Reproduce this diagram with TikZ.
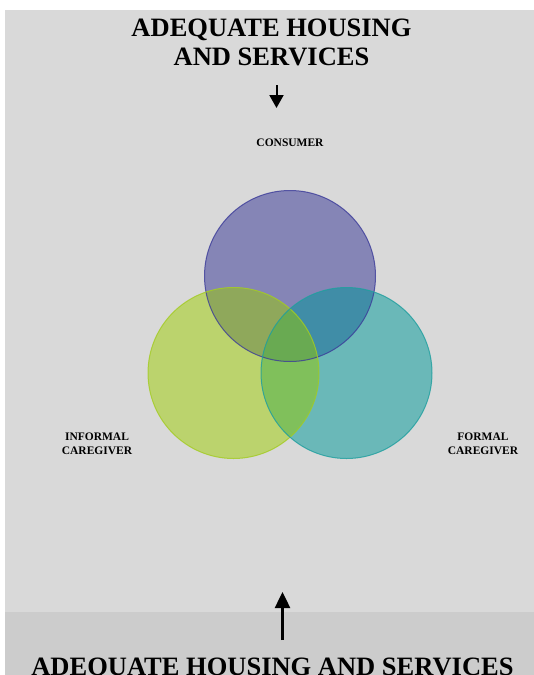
\documentclass[tikz,border=0pt]{standalone}
\usepackage{fontspec}
\setmainfont{Liberation Serif}
\usetikzlibrary{arrows.meta}

\definecolor{panel}{HTML}{D9D9D9}
\definecolor{band}{HTML}{CCCCCC}
\definecolor{consumerFill}{HTML}{8585B6}
\definecolor{consumerLine}{HTML}{3B3B99}
\definecolor{informalFill}{HTML}{BBD36D}
\definecolor{informalLine}{HTML}{A3CB22}
\definecolor{formalFill}{HTML}{6AB8B8}
\definecolor{formalLine}{HTML}{1E9E9E}
\definecolor{ciFill}{HTML}{8FA85B}
\definecolor{cfFill}{HTML}{408DA7}
\definecolor{ifFill}{HTML}{80C05B}
\definecolor{allFill}{HTML}{69AA52}

\tikzset{
  heading/.style={font=\bfseries\fontsize{26.5}{29}\selectfont, align=center, inner sep=0pt, anchor=base},
  role/.style={font=\bfseries\fontsize{11.5}{14}\selectfont, align=center, inner sep=0pt, anchor=base},
  flow/.style={line width=2pt, -{Triangle[width=14pt,length=13pt]}},
  flowup/.style={line width=2.5pt, -{Triangle[width=15pt,length=16pt]}},
}

\newcommand{\rad}{85.5}

\begin{document}
\begin{tikzpicture}[x=1pt,y=-1pt]
  \useasboundingbox (0,0) rectangle (534,675);
  \fill[white] (0,0) rectangle (534,675);
  \fill[panel] (5,10) rectangle (534,675);
  \fill[band] (5,612) rectangle (534,675);

  % circle centres
  \coordinate (cC) at (290,276);
  \coordinate (cI) at (233.5,373);
  \coordinate (cF) at (346.5,373);

  % base fills
  \fill[consumerFill] (cC) circle[radius=\rad];
  \fill[informalFill] (cI) circle[radius=\rad];
  \fill[formalFill] (cF) circle[radius=\rad];

  % pairwise overlaps
  \begin{scope}
    \clip (cC) circle[radius=\rad];
    \fill[ciFill] (cI) circle[radius=\rad];
    \fill[cfFill] (cF) circle[radius=\rad];
  \end{scope}
  \begin{scope}
    \clip (cI) circle[radius=\rad];
    \fill[ifFill] (cF) circle[radius=\rad];
    \clip (cF) circle[radius=\rad];
    \fill[allFill] (cC) circle[radius=\rad];
  \end{scope}

  % outlines
  \draw[consumerLine, line width=1pt, draw opacity=0.8] (cC) circle[radius=\rad];
  \draw[informalLine, line width=1pt, draw opacity=0.8] (cI) circle[radius=\rad];
  \draw[formalLine, line width=1pt, draw opacity=0.8] (cF) circle[radius=\rad];

  % labels (base anchor sits on the last line)
  \node[heading] (top) at (271.5,65) {ADEQUATE HOUSING\\AND SERVICES};
  \node[heading] (bottom) at (272.5,675) {ADEQUATE HOUSING AND SERVICES};
  \node[role] (consumer) at (290,146) {CONSUMER};
  \node[role] (informal) at (97,454) {INFORMAL\\CAREGIVER};
  \node[role] (formal) at (483,454) {FORMAL\\CAREGIVER};

  % arrows
  \coordinate (downStart) at (276.5,85);
  \coordinate (downEnd) at (276.5,108);
  \coordinate (upStart) at (282.5,640);
  \coordinate (upEnd) at (282.5,592);
  \draw[flow] (downStart) -- (downEnd);
  \draw[flowup] (upStart) -- (upEnd);
\end{tikzpicture}
\end{document}
